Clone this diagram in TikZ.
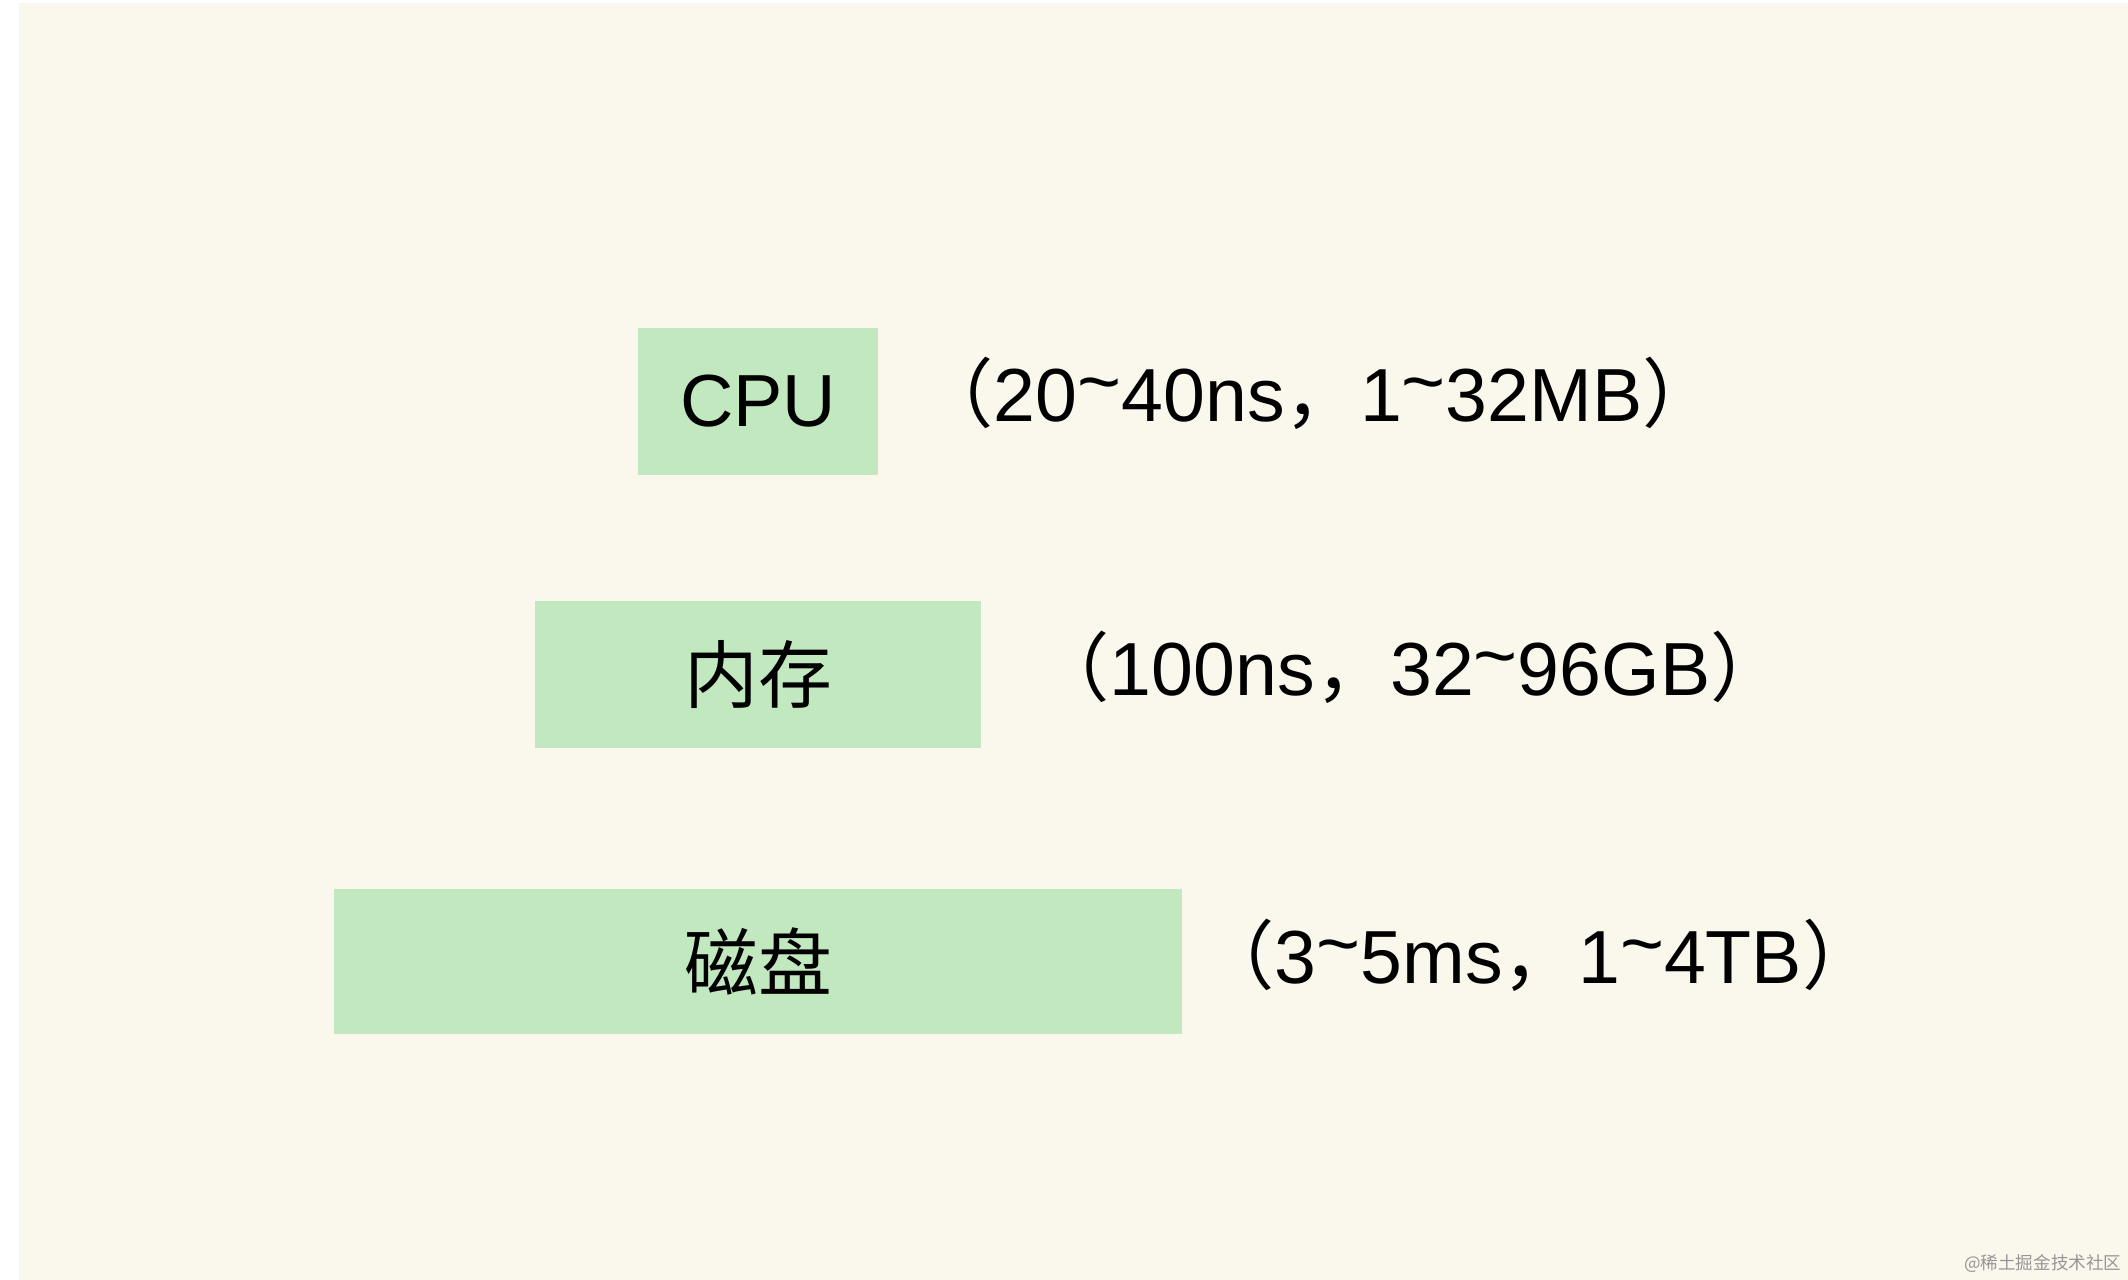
\documentclass[tikz,border=0pt]{standalone}
\usepackage{fontspec}
\setmainfont{Liberation Sans}
\newfontfamily\cjk{Noto Sans CJK SC}
\definecolor{bgbeige}{RGB}{250,248,237}
\definecolor{boxgreen}{RGB}{193,232,190}
\definecolor{wmgrey}{RGB}{150,150,150}
\newcommand{\tld}{\raisebox{0.18em}{\textasciitilde}}
\begin{document}
\begin{tikzpicture}[x=0.01cm,y=-0.01cm,
  levelbox/.style={fill=boxgreen,draw=none,inner sep=0pt,font=\fontsize{21}{25}\selectfont},
  spec/.style={anchor=west,inner sep=0pt,font=\fontsize{21.4}{25}\selectfont}]
\useasboundingbox (0,0) rectangle (2128,1280);
\fill[white] (0,0) rectangle (2128,1280);
\fill[bgbeige] (19,3) rectangle (2128,1280);
\node[levelbox,minimum width=2.40cm,minimum height=1.47cm] (cpu) at (758,401.5) {CPU};
\node[levelbox,minimum width=4.46cm,minimum height=1.47cm] (mem) at (758,674.5) {\cjk 内存};
\node[levelbox,minimum width=8.48cm,minimum height=1.45cm] (disk) at (758,961.5) {\cjk 磁盘};
\node[spec] (cpuspec) at (918,393) {{\cjk （}20\tld40ns{\cjk ，}1\tld32MB{\cjk ）}};
\node[spec] (memspec) at (1034,667) {{\cjk （}100ns{\cjk ，}32\tld96GB{\cjk ）}};
\node[spec] (diskspec) at (1199,955) {{\cjk （}3\tld5ms{\cjk ，}1\tld4TB{\cjk ）}};
\node[anchor=east,inner sep=0pt,text=wmgrey,font=\cjk\fontsize{5}{6}\selectfont] (wm) at (2122,1264) {@稀土掘金技术社区};
\end{tikzpicture}
\end{document}
